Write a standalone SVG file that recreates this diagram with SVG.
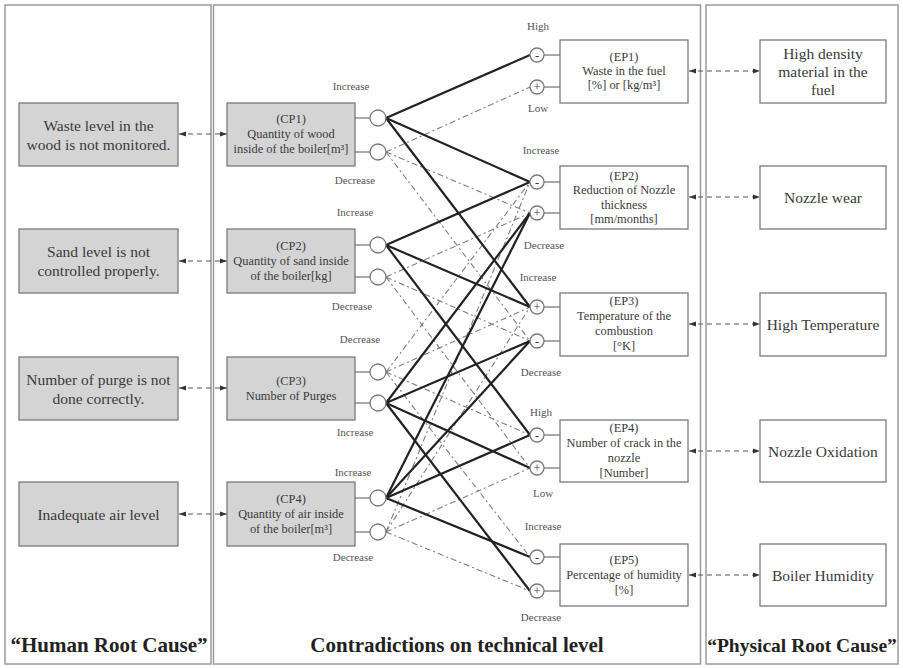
<svg xmlns="http://www.w3.org/2000/svg" width="903" height="668" viewBox="0 0 903 668">
<style>
.panel{fill:none;stroke:#9a9a9a;stroke-width:1.5}
.gbox{fill:#d4d4d4;stroke:#7a7a7a;stroke-width:1.3}
.wbox{fill:#fff;stroke:#7a7a7a;stroke-width:1.3}
.t{font-family:"Liberation Serif","Times New Roman",serif;fill:#3a3a3a;text-anchor:middle;dominant-baseline:central}
.big{font-size:15.5px}
.mid{font-size:12.4px}
.lbl{font-size:11px;fill:#555}
.title{font-size:21px;font-weight:bold;fill:#222}
.sol{stroke:#222;stroke-width:2.2;fill:none}
.dsh{stroke:#7e7e7e;stroke-width:1.1;fill:none;stroke-dasharray:6 3 2 3}
.arr{stroke:#555;stroke-width:1.1;fill:none;stroke-dasharray:5 4}
.stub{stroke:#7a7a7a;stroke-width:1.3}
.cir{fill:#fff;stroke:#7a7a7a;stroke-width:1.3}
</style>
<defs>
<marker id="ah" viewBox="0 0 10 10" refX="10" refY="5" markerWidth="7" markerHeight="7" markerUnits="userSpaceOnUse" orient="auto-start-reverse">
<path d="M0,1.5 L10,5 L0,8.5 Z" fill="#333"/>
</marker>
</defs>
<rect width="903" height="668" fill="#fff"/>
<g id="panels">
<rect class="panel" x="5" y="5" width="206" height="659"/>
<rect class="panel" x="213.5" y="5" width="487" height="659"/>
<rect class="panel" x="706" y="5" width="192" height="659"/>
</g>
<g id="titles">
<text class="t title" x="109" y="645">“Human Root Cause”</text>
<text class="t title" x="457" y="645">Contradictions on technical level</text>
<text class="t title" x="802" y="645" style="font-size:19.5px">“Physical Root Cause”</text>
</g>
<g id="connectors">
<line class="arr" x1="179" y1="134" x2="227" y2="134" marker-start="url(#ah)" marker-end="url(#ah)"/>
<line class="arr" x1="179" y1="261" x2="227" y2="261" marker-start="url(#ah)" marker-end="url(#ah)"/>
<line class="arr" x1="179" y1="388" x2="227" y2="388" marker-start="url(#ah)" marker-end="url(#ah)"/>
<line class="arr" x1="179" y1="514" x2="227" y2="514" marker-start="url(#ah)" marker-end="url(#ah)"/>
<line class="arr" x1="689" y1="71" x2="760" y2="71" marker-start="url(#ah)" marker-end="url(#ah)"/>
<line class="arr" x1="689" y1="197" x2="760" y2="197" marker-start="url(#ah)" marker-end="url(#ah)"/>
<line class="arr" x1="689" y1="324" x2="760" y2="324" marker-start="url(#ah)" marker-end="url(#ah)"/>
<line class="arr" x1="689" y1="451" x2="760" y2="451" marker-start="url(#ah)" marker-end="url(#ah)"/>
<line class="arr" x1="689" y1="575" x2="760" y2="575" marker-start="url(#ah)" marker-end="url(#ah)"/>
<g class="stub">
<line x1="355" y1="118" x2="370" y2="118"/><line x1="355" y1="152" x2="370" y2="152"/>
<line x1="355" y1="245" x2="370" y2="245"/><line x1="355" y1="277" x2="370" y2="277"/>
<line x1="355" y1="372" x2="370" y2="372"/><line x1="355" y1="403" x2="370" y2="403"/>
<line x1="355" y1="498" x2="370" y2="498"/><line x1="355" y1="532" x2="370" y2="532"/>
<line x1="544" y1="55" x2="560" y2="55"/><line x1="544" y1="87" x2="560" y2="87"/>
<line x1="544" y1="182" x2="560" y2="182"/><line x1="544" y1="213" x2="560" y2="213"/>
<line x1="544" y1="307" x2="560" y2="307"/><line x1="544" y1="341" x2="560" y2="341"/>
<line x1="544" y1="435" x2="560" y2="435"/><line x1="544" y1="468" x2="560" y2="468"/>
<line x1="544" y1="557" x2="560" y2="557"/><line x1="544" y1="591" x2="560" y2="591"/>
</g>
<g class="dsh">
<line x1="386" y1="152" x2="530" y2="87"/>
<line x1="386" y1="152" x2="530" y2="213"/>
<line x1="386" y1="152" x2="530" y2="341"/>
<line x1="386" y1="277" x2="530" y2="213"/>
<line x1="386" y1="277" x2="530" y2="341"/>
<line x1="386" y1="277" x2="530" y2="468"/>
<line x1="386" y1="372" x2="530" y2="182"/>
<line x1="386" y1="372" x2="530" y2="307"/>
<line x1="386" y1="372" x2="530" y2="435"/>
<line x1="386" y1="372" x2="530" y2="557"/>
<line x1="386" y1="532" x2="530" y2="182"/>
<line x1="386" y1="532" x2="530" y2="307"/>
<line x1="386" y1="532" x2="530" y2="468"/>
<line x1="386" y1="532" x2="530" y2="591"/>
</g>
<g class="sol">
<line x1="386" y1="118" x2="530" y2="55"/>
<line x1="386" y1="118" x2="530" y2="182"/>
<line x1="386" y1="118" x2="530" y2="307"/>
<line x1="386" y1="245" x2="530" y2="182"/>
<line x1="386" y1="245" x2="530" y2="307"/>
<line x1="386" y1="245" x2="530" y2="435"/>
<line x1="386" y1="403" x2="530" y2="213"/>
<line x1="386" y1="403" x2="530" y2="341"/>
<line x1="386" y1="403" x2="530" y2="468"/>
<line x1="386" y1="403" x2="530" y2="591"/>
<line x1="386" y1="498" x2="530" y2="213"/>
<line x1="386" y1="498" x2="530" y2="341"/>
<line x1="386" y1="498" x2="530" y2="435"/>
<line x1="386" y1="498" x2="530" y2="557"/>
</g>
</g>
<g id="H1"><rect class="gbox" x="19" y="103" width="159" height="63"/>
<text class="t big" x="98.5" y="125">Waste level in the</text><text class="t big" x="98.5" y="144">wood is not monitored.</text></g>
<g id="H2"><rect class="gbox" x="19" y="229" width="159" height="64"/>
<text class="t big" x="98.5" y="251">Sand level is not</text><text class="t big" x="98.5" y="270">controlled properly.</text></g>
<g id="H3"><rect class="gbox" x="19" y="357" width="159" height="63"/>
<text class="t big" x="98.5" y="379">Number of purge is not</text><text class="t big" x="98.5" y="398">done correctly.</text></g>
<g id="H4"><rect class="gbox" x="19" y="482" width="159" height="64"/>
<text class="t big" x="98.5" y="514">Inadequate  air level</text></g>
<g id="CP1"><rect class="gbox" x="227" y="103" width="128" height="63"/>
<text class="t mid" x="291" y="119">(CP1)</text><text class="t mid" x="291" y="134">Quantity of wood</text><text class="t mid" x="291" y="149">inside of the boiler[m³]</text>
<circle class="cir" cx="378" cy="118" r="8"/><circle class="cir" cx="378" cy="152" r="8"/>
<text class="t lbl" x="351" y="86">Increase</text><text class="t lbl" x="355" y="180">Decrease</text></g>
<g id="CP2"><rect class="gbox" x="227" y="229" width="128" height="64"/>
<text class="t mid" x="291" y="246">(CP2)</text><text class="t mid" x="291" y="261">Quantity of sand inside</text><text class="t mid" x="291" y="276">of the boiler[kg]</text>
<circle class="cir" cx="378" cy="245" r="8"/><circle class="cir" cx="378" cy="277" r="8"/>
<text class="t lbl" x="355" y="212">Increase</text><text class="t lbl" x="352" y="306">Decrease</text></g>
<g id="CP3"><rect class="gbox" x="227" y="357" width="128" height="63"/>
<text class="t mid" x="291" y="381">(CP3)</text><text class="t mid" x="291" y="396">Number of Purges</text>
<circle class="cir" cx="378" cy="372" r="8"/><circle class="cir" cx="378" cy="403" r="8"/>
<text class="t lbl" x="360" y="339">Decrease</text><text class="t lbl" x="355" y="432">Increase</text></g>
<g id="CP4"><rect class="gbox" x="227" y="482" width="128" height="64"/>
<text class="t mid" x="291" y="499">(CP4)</text><text class="t mid" x="291" y="514">Quantity of air inside</text><text class="t mid" x="291" y="529">of the boiler[m³]</text>
<circle class="cir" cx="378" cy="498" r="8"/><circle class="cir" cx="378" cy="532" r="8"/>
<text class="t lbl" x="353" y="472">Increase</text><text class="t lbl" x="353" y="557">Decrease</text></g>
<g id="EP1"><rect class="wbox" x="560" y="40" width="128" height="63"/>
<text class="t mid" x="624" y="57">(EP1)</text><text class="t mid" x="624" y="71">Waste in the fuel</text><text class="t mid" x="624" y="85">[%] or [kg/m³]</text>
<circle class="cir" cx="537" cy="55" r="7"/><text class="t mid" x="537" y="55">-</text>
<circle class="cir" cx="537" cy="87" r="7"/><text class="t mid" x="537" y="87">+</text>
<text class="t lbl" x="538" y="26">High</text><text class="t lbl" x="538" y="108">Low</text></g>
<g id="EP2"><rect class="wbox" x="560" y="166" width="128" height="63"/>
<text class="t mid" x="624" y="176">(EP2)</text><text class="t mid" x="624" y="190">Reduction of Nozzle</text><text class="t mid" x="624" y="205">thickness</text><text class="t mid" x="624" y="219">[mm/months]</text>
<circle class="cir" cx="537" cy="182" r="7"/><text class="t mid" x="537" y="182">-</text>
<circle class="cir" cx="537" cy="213" r="7"/><text class="t mid" x="537" y="213">+</text>
<text class="t lbl" x="541" y="150">Increase</text><text class="t lbl" x="544" y="245">Decrease</text></g>
<g id="EP3"><rect class="wbox" x="560" y="293" width="128" height="63"/>
<text class="t mid" x="624" y="301">(EP3)</text><text class="t mid" x="624" y="316">Temperature of the</text><text class="t mid" x="624" y="331">combustion</text><text class="t mid" x="624" y="346">[°K]</text>
<circle class="cir" cx="537" cy="307" r="7"/><text class="t mid" x="537" y="307">+</text>
<circle class="cir" cx="537" cy="341" r="7"/><text class="t mid" x="537" y="341">-</text>
<text class="t lbl" x="538" y="277">Increase</text><text class="t lbl" x="541" y="372">Decrease</text></g>
<g id="EP4"><rect class="wbox" x="560" y="420" width="128" height="62"/>
<text class="t mid" x="624" y="428">(EP4)</text><text class="t mid" x="624" y="443">Number of crack in the</text><text class="t mid" x="624" y="458">nozzle</text><text class="t mid" x="624" y="473">[Number]</text>
<circle class="cir" cx="537" cy="435" r="7"/><text class="t mid" x="537" y="435">-</text>
<circle class="cir" cx="537" cy="468" r="7"/><text class="t mid" x="537" y="468">+</text>
<text class="t lbl" x="541" y="412">High</text><text class="t lbl" x="543" y="493">Low</text></g>
<g id="EP5"><rect class="wbox" x="560" y="544" width="128" height="62"/>
<text class="t mid" x="624" y="560">(EP5)</text><text class="t mid" x="624" y="575">Percentage of humidity</text><text class="t mid" x="624" y="590">[%]</text>
<circle class="cir" cx="537" cy="557" r="7"/><text class="t mid" x="537" y="557">-</text>
<circle class="cir" cx="537" cy="591" r="7"/><text class="t mid" x="537" y="591">+</text>
<text class="t lbl" x="543" y="526">Increase</text><text class="t lbl" x="541" y="617">Decrease</text></g>
<g id="P1"><rect class="wbox" x="760" y="40" width="126" height="63"/>
<text class="t big" x="823" y="53">High density</text><text class="t big" x="823" y="71">material in the</text><text class="t big" x="823" y="89">fuel</text></g>
<g id="P2"><rect class="wbox" x="760" y="166" width="126" height="63"/>
<text class="t big" x="823" y="197">Nozzle wear</text></g>
<g id="P3"><rect class="wbox" x="760" y="293" width="126" height="63"/>
<text class="t big" x="823" y="324">High Temperature</text></g>
<g id="P4"><rect class="wbox" x="760" y="420" width="126" height="62"/>
<text class="t big" x="823" y="451">Nozzle Oxidation</text></g>
<g id="P5"><rect class="wbox" x="760" y="544" width="126" height="62"/>
<text class="t big" x="823" y="575">Boiler Humidity</text></g>
</svg>
